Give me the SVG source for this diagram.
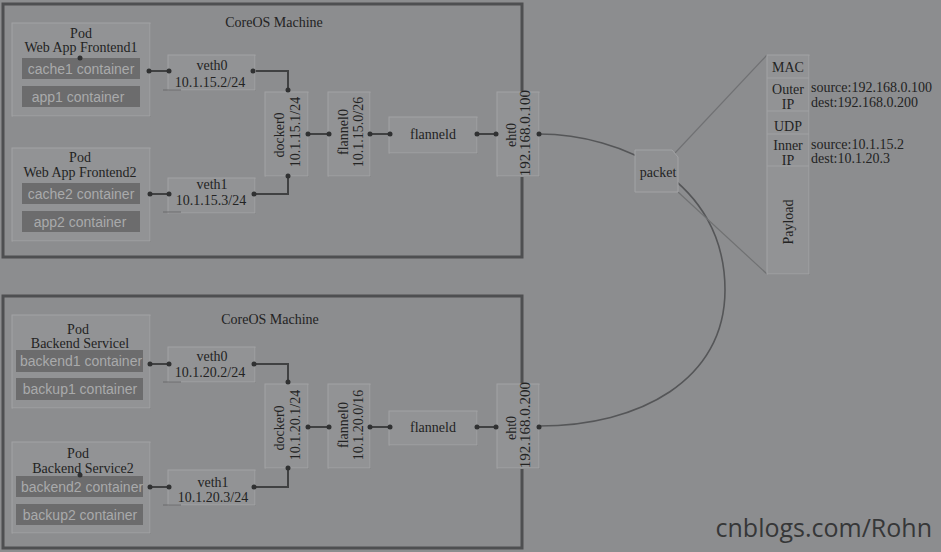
<svg xmlns="http://www.w3.org/2000/svg" width="941" height="552" viewBox="0 0 941 552">
<defs>
<style>
.bg{fill:#8c8d8f}
.machine{fill:none;stroke:#4e4f51;stroke-width:3}
.box{fill:#929395;stroke:#a2a3a5;stroke-width:1}
.shadow{fill:#7e7f81}
.cont{fill:#6c6c6d}
.ct{font-family:"Liberation Sans",Arial,sans-serif;font-size:14px;fill:#a9aaab;text-anchor:middle}
.t{font-family:"Liberation Serif","Times New Roman",serif;font-size:14px;fill:#232323;text-anchor:middle}
.tl{font-family:"Liberation Serif","Times New Roman",serif;font-size:14px;fill:#232323}
.title{font-family:"Liberation Serif","Times New Roman",serif;font-size:14px;fill:#232323;text-anchor:middle}
.ln{fill:none;stroke:#404142;stroke-width:2}
.thin{fill:none;stroke:#454647;stroke-width:1.3}
.faint{fill:none;stroke:#6a6b6d;stroke-width:1}
.wire{fill:none;stroke:#555658;stroke-width:1.6}
.zoomln{fill:none;stroke:#707173;stroke-width:1.2}
.dot{fill:#303132}
.sep{stroke:#a0a1a3;stroke-width:1}
.wm{font-family:"Open Sans","Noto Sans",sans-serif;font-size:25px;fill:#363738}
</style>
</defs>
<rect class="bg" x="0" y="0" width="941" height="552"/>

<!-- machines -->
<g id="machine1">
<rect class="machine" x="3" y="4" width="519" height="253"/>
<text class="title" x="274" y="27">CoreOS Machine</text>
</g>
<g id="machine2">
<rect class="machine" x="3" y="296" width="519" height="252"/>
<text class="title" x="270" y="324">CoreOS Machine</text>
</g>

<!-- connectors -->
<g id="connectors">
<path class="wire" d="M539,134 C620,134 725,180 725,290 C725,380 640,426 539,426"/>
<line class="zoomln" x1="675" y1="153" x2="767" y2="55"/>
<line class="zoomln" x1="678" y1="192" x2="767" y2="274"/>
<!-- top machine -->
<path class="thin" d="M80,58 C100,52 120,46 133,48 C146,52 147,62 149,71"/>
<line class="ln" x1="149" y1="71" x2="169" y2="71"/>
<line class="ln" x1="150" y1="194" x2="169" y2="194"/>
<path class="ln" d="M253,71 H288 V90"/>
<path class="ln" d="M254,194 H288 V176"/>
<line class="ln" x1="308" y1="134" x2="329" y2="134"/>
<line class="ln" x1="370" y1="134" x2="390" y2="134"/>
<line class="ln" x1="477" y1="134" x2="496" y2="134"/>
<!-- bottom machine -->
<path class="thin" d="M80,475 C100,469 120,462 133,464 C146,468 147,478 149,487"/>
<line class="ln" x1="150" y1="364" x2="169" y2="364"/>
<line class="ln" x1="150" y1="487" x2="169" y2="487"/>
<path class="ln" d="M254,364 H288 V383"/>
<path class="ln" d="M254,487 H288 V468"/>
<line class="ln" x1="308" y1="427" x2="329" y2="427"/>
<line class="ln" x1="370" y1="427" x2="390" y2="427"/>
<line class="ln" x1="477" y1="427" x2="496" y2="427"/>
</g>

<!-- top machine nodes -->
<g id="pod1">
<rect class="shadow" x="13" y="24" width="138" height="93"/>
<rect class="box" x="12" y="23" width="138" height="93"/>
<text class="t" x="81" y="38">Pod</text>
<text class="t" x="81" y="52">Web App Frontend1</text>
<rect class="cont" x="22" y="58" width="118" height="21"/>
<text class="ct" x="81" y="74">cache1 container</text>
<rect class="cont" x="22" y="86" width="118" height="21"/>
<text class="ct" x="78" y="102">app1 container</text>
</g>
<g id="pod2">
<rect class="shadow" x="13" y="149" width="138" height="93"/>
<rect class="box" x="12" y="148" width="138" height="93"/>
<text class="t" x="80" y="162">Pod</text>
<text class="t" x="80" y="177">Web App Frontend2</text>
<rect class="cont" x="22" y="183" width="118" height="21"/>
<text class="ct" x="81" y="199">cache2 container</text>
<rect class="cont" x="22" y="211" width="118" height="21"/>
<text class="ct" x="80" y="227">app2 container</text>
</g>
<g id="veth0-top">
<rect class="shadow" x="169" y="56" width="87" height="35"/>
<rect class="box" x="168" y="55" width="87" height="35"/>
<line class="faint" x1="163" y1="90" x2="181" y2="90"/>
<text class="t" x="212" y="70">veth0</text>
<text class="t" x="210" y="87">10.1.15.2/24</text>
</g>
<g id="veth1-top">
<rect class="shadow" x="169" y="179" width="87" height="35"/>
<rect class="box" x="168" y="178" width="87" height="35"/>
<line class="faint" x1="163" y1="212" x2="181" y2="212"/>
<text class="t" x="212" y="189">veth1</text>
<text class="t" x="211" y="205">10.1.15.3/24</text>
</g>
<g id="docker0-top">
<rect class="shadow" x="266" y="93" width="43" height="84"/>
<rect class="box" x="265" y="92" width="43" height="84"/>
<text class="t" transform="translate(284,135) rotate(-90)">docker0</text>
<text class="t" transform="translate(300,132) rotate(-90)">10.1.15.1/24</text>
</g>
<g id="flannel0-top">
<rect class="shadow" x="329" y="93" width="42" height="84"/>
<rect class="box" x="328" y="92" width="42" height="84"/>
<text class="t" transform="translate(348,132) rotate(-90)">flannel0</text>
<text class="t" transform="translate(363,132) rotate(-90)">10.1.15.0/26</text>
</g>
<g id="flanneld-top">
<rect class="shadow" x="390" y="118" width="88" height="36"/>
<rect class="box" x="389" y="117" width="88" height="36"/>
<text class="t" x="433" y="139">flanneld</text>
</g>
<g id="eht0-top">
<rect class="shadow" x="498" y="93" width="42" height="84"/>
<rect class="box" x="497" y="92" width="42" height="84"/>
<text class="t" transform="translate(516,135) rotate(-90)">eht0</text>
<text class="t" transform="translate(530,133) rotate(-90)" style="font-size:15px">192.168.0.100</text>
</g>

<!-- bottom machine nodes -->
<g id="pod3">
<rect class="shadow" x="13" y="316" width="138" height="93"/>
<rect class="box" x="12" y="315" width="138" height="93"/>
<text class="t" x="78" y="334">Pod</text>
<text class="t" x="80" y="348">Backend Servicel</text>
<rect class="cont" x="16" y="350" width="127" height="22"/>
<text class="ct" x="81" y="366">backend1 container</text>
<rect class="cont" x="16" y="378" width="127" height="22"/>
<text class="ct" x="80" y="394">backup1 container</text>
</g>
<g id="pod4">
<rect class="shadow" x="13" y="443" width="138" height="91"/>
<rect class="box" x="12" y="442" width="138" height="91"/>
<text class="t" x="78" y="458">Pod</text>
<text class="t" x="83" y="473">Backend Service2</text>
<rect class="cont" x="16" y="476" width="127" height="21"/>
<text class="ct" x="82" y="492">backend2 container</text>
<rect class="cont" x="16" y="504" width="127" height="21"/>
<text class="ct" x="80" y="520">backup2 container</text>
</g>
<g id="veth0-bottom">
<rect class="shadow" x="169" y="348" width="87" height="35"/>
<rect class="box" x="168" y="347" width="87" height="35"/>
<line class="faint" x1="163" y1="382" x2="181" y2="382"/>
<text class="t" x="212" y="361">veth0</text>
<text class="t" x="210" y="377">10.1.20.2/24</text>
</g>
<g id="veth1-bottom">
<rect class="shadow" x="169" y="471" width="87" height="35"/>
<rect class="box" x="168" y="470" width="87" height="35"/>
<line class="faint" x1="163" y1="505" x2="181" y2="505"/>
<text class="t" x="213" y="487">veth1</text>
<text class="t" x="213" y="502">10.1.20.3/24</text>
</g>
<g id="docker0-bottom">
<rect class="shadow" x="266" y="385" width="43" height="84"/>
<rect class="box" x="265" y="384" width="43" height="84"/>
<text class="t" transform="translate(284,428) rotate(-90)">docker0</text>
<text class="t" transform="translate(300,425) rotate(-90)">10.1.20.1/24</text>
</g>
<g id="flannel0-bottom">
<rect class="shadow" x="329" y="385" width="42" height="84"/>
<rect class="box" x="328" y="384" width="42" height="84"/>
<text class="t" transform="translate(348,425) rotate(-90)">flannel0</text>
<text class="t" transform="translate(363,425) rotate(-90)">10.1.20.0/16</text>
</g>
<g id="flanneld-bottom">
<rect class="shadow" x="390" y="412" width="88" height="34"/>
<rect class="box" x="389" y="411" width="88" height="34"/>
<text class="t" x="433" y="432">flanneld</text>
</g>
<g id="eht0-bottom">
<rect class="shadow" x="498" y="385" width="42" height="84"/>
<rect class="box" x="497" y="384" width="42" height="84"/>
<text class="t" transform="translate(516,428) rotate(-90)">eht0</text>
<text class="t" transform="translate(530,425) rotate(-90)" style="font-size:15px">192.168.0.200</text>
</g>

<!-- packet -->
<g id="packet">
<path class="box" d="M635,150 H672 L678,157 V192 H635 Z" style="fill:#8f9092"/>
<text class="t" x="658" y="177">packet</text>
</g>
<g id="packet-detail">
<rect class="shadow" x="768" y="56" width="42" height="219"/>
<rect class="box" x="767" y="55" width="42" height="219"/>
<line class="sep" x1="767" y1="78" x2="809" y2="78"/>
<line class="sep" x1="767" y1="111" x2="809" y2="111"/>
<line class="sep" x1="767" y1="134" x2="809" y2="134"/>
<line class="sep" x1="767" y1="166" x2="809" y2="166"/>
<text class="t" x="788" y="72">MAC</text>
<text class="t" x="788" y="94">Outer</text>
<text class="t" x="788" y="109">IP</text>
<text class="t" x="788" y="131">UDP</text>
<text class="t" x="788" y="150">Inner</text>
<text class="t" x="788" y="165">IP</text>
<text class="t" transform="translate(793,222) rotate(-90)">Payload</text>
<text class="tl" x="811" y="92">source:192.168.0.100</text>
<text class="tl" x="811" y="107">dest:192.168.0.200</text>
<text class="tl" x="811" y="149">source:10.1.15.2</text>
<text class="tl" x="811" y="163">dest:10.1.20.3</text>
</g>

<!-- connector dots -->
<g id="dots">
<circle class="dot" cx="80" cy="58" r="2.5"/>
<circle class="dot" cx="149" cy="71" r="2.5"/>
<circle class="dot" cx="169" cy="71" r="2.5"/>
<circle class="dot" cx="253" cy="71" r="2.5"/>
<circle class="dot" cx="288" cy="90" r="2.5"/>
<circle class="dot" cx="150" cy="194" r="2.5"/>
<circle class="dot" cx="169" cy="194" r="2.5"/>
<circle class="dot" cx="254" cy="194" r="2.5"/>
<circle class="dot" cx="288" cy="176" r="2.5"/>
<circle class="dot" cx="308" cy="134" r="2.5"/>
<circle class="dot" cx="329" cy="134" r="2.5"/>
<circle class="dot" cx="370" cy="134" r="2.5"/>
<circle class="dot" cx="390" cy="134" r="2.5"/>
<circle class="dot" cx="477" cy="134" r="2.5"/>
<circle class="dot" cx="496" cy="134" r="2.5"/>
<circle class="dot" cx="539" cy="134" r="2.5"/>
<circle class="dot" cx="80" cy="475" r="2.5"/>
<circle class="dot" cx="150" cy="364" r="2.5"/>
<circle class="dot" cx="169" cy="364" r="2.5"/>
<circle class="dot" cx="254" cy="364" r="2.5"/>
<circle class="dot" cx="288" cy="382" r="2.5"/>
<circle class="dot" cx="150" cy="487" r="2.5"/>
<circle class="dot" cx="169" cy="487" r="2.5"/>
<circle class="dot" cx="254" cy="487" r="2.5"/>
<circle class="dot" cx="288" cy="468" r="2.5"/>
<circle class="dot" cx="308" cy="427" r="2.5"/>
<circle class="dot" cx="329" cy="427" r="2.5"/>
<circle class="dot" cx="370" cy="427" r="2.5"/>
<circle class="dot" cx="390" cy="427" r="2.5"/>
<circle class="dot" cx="477" cy="427" r="2.5"/>
<circle class="dot" cx="496" cy="427" r="2.5"/>
<circle class="dot" cx="539" cy="427" r="2.5"/>
</g>

<text class="wm" x="932" y="537" text-anchor="end">cnblogs.com/Rohn</text>
</svg>
